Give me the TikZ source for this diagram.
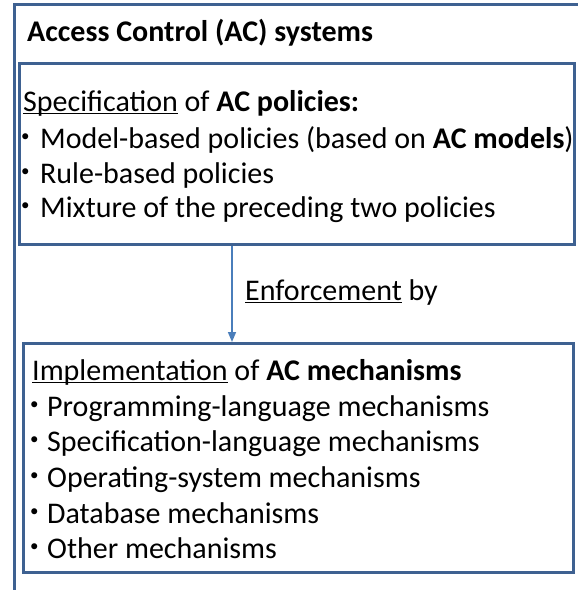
\documentclass[tikz,border=0pt]{standalone}
\usepackage{fontspec}
\setmainfont{Carlito}
\usetikzlibrary{arrows.meta}
\definecolor{frameblue}{HTML}{3E6191}
\definecolor{linkblue}{HTML}{4A7EBB}
% underline drawn just below the baseline, crossing descenders
\newcommand\ulword[1]{\setbox0\hbox{#1}\rlap{\rule[-3pt]{\wd0}{1.5pt}}\box0\relax}
\tikzset{
  frame/.style={draw=frameblue, line width=3pt, rectangle, inner sep=0pt, anchor=north west},
  txt/.style={anchor=base west, inner sep=0pt, font=\fontsize{30}{36}\selectfont},
  titletxt/.style={anchor=base west, inner sep=0pt, font=\bfseries\fontsize{30}{36}\selectfont},
  dot/.style={anchor=base west, inner sep=0pt, font=\fontsize{17}{17}\selectfont},
  link/.style={draw=linkblue, line width=1.5pt, -{Triangle[length=10pt,width=8pt]}}
}
\begin{document}
\begin{tikzpicture}[x=1pt,y=-1pt]
\useasboundingbox (0,0) rectangle (578,590);
\clip (0,0) rectangle (578,590);
\fill[white] (0,0) rectangle (578,590);

% outer frame (runs off the right and bottom edges)
\node[frame, minimum width=600pt, minimum height=640pt] (outer) at (13,3) {};
\node[titletxt] (title) at (27,41) {Access Control (AC) systems};

% policies box
\node[frame, minimum width=555pt, minimum height=181pt] (spec) at (18,62) {};
\node[txt] (spechead) at (23,111) {\ulword{Specification} of \textbf{AC policies:}};
\node[dot] (b1) at (21,143) {\raisebox{2pt}{•}};
\node[txt] (p1) at (40,148) {Model-based policies (based on \textbf{AC models})};
\node[dot] (b2) at (21,178) {\raisebox{2pt}{•}};
\node[txt] (p2) at (40,183) {Rule-based policies};
\node[dot] (b3) at (21,212) {\raisebox{2pt}{•}};
\node[txt] (p3) at (40,217) {Mixture of the preceding two policies};

% mechanisms box
\node[frame, minimum width=550pt, minimum height=229pt] (impl) at (22,342) {};
\node[txt] (implhead) at (32,380) {\ulword{Implementation} of \textbf{AC mechanisms}};
\node[dot] (m1b) at (30,411) {\raisebox{2pt}{•}};
\node[txt] (m1) at (47,416) {Programming-language mechanisms};
\node[dot] (m2b) at (30,446) {\raisebox{2pt}{•}};
\node[txt] (m2) at (47,451) {Specification-language mechanisms};
\node[dot] (m3b) at (30,482) {\raisebox{2pt}{•}};
\node[txt] (m3) at (47,487) {Operating-system mechanisms};
\node[dot] (m4b) at (30,518) {\raisebox{2pt}{•}};
\node[txt] (m4) at (47,523) {Database mechanisms};
\node[dot] (m5b) at (30,553) {\raisebox{2pt}{•}};
\node[txt] (m5) at (47,558) {Other mechanisms};

% enforcement arrow
\coordinate (ax) at (232,0);
\draw[link] (spec.south -| ax) -- (impl.north -| ax);
\node[txt] (enf) at (245,300) {\ulword{Enforcement} by};
\end{tikzpicture}
\end{document}
